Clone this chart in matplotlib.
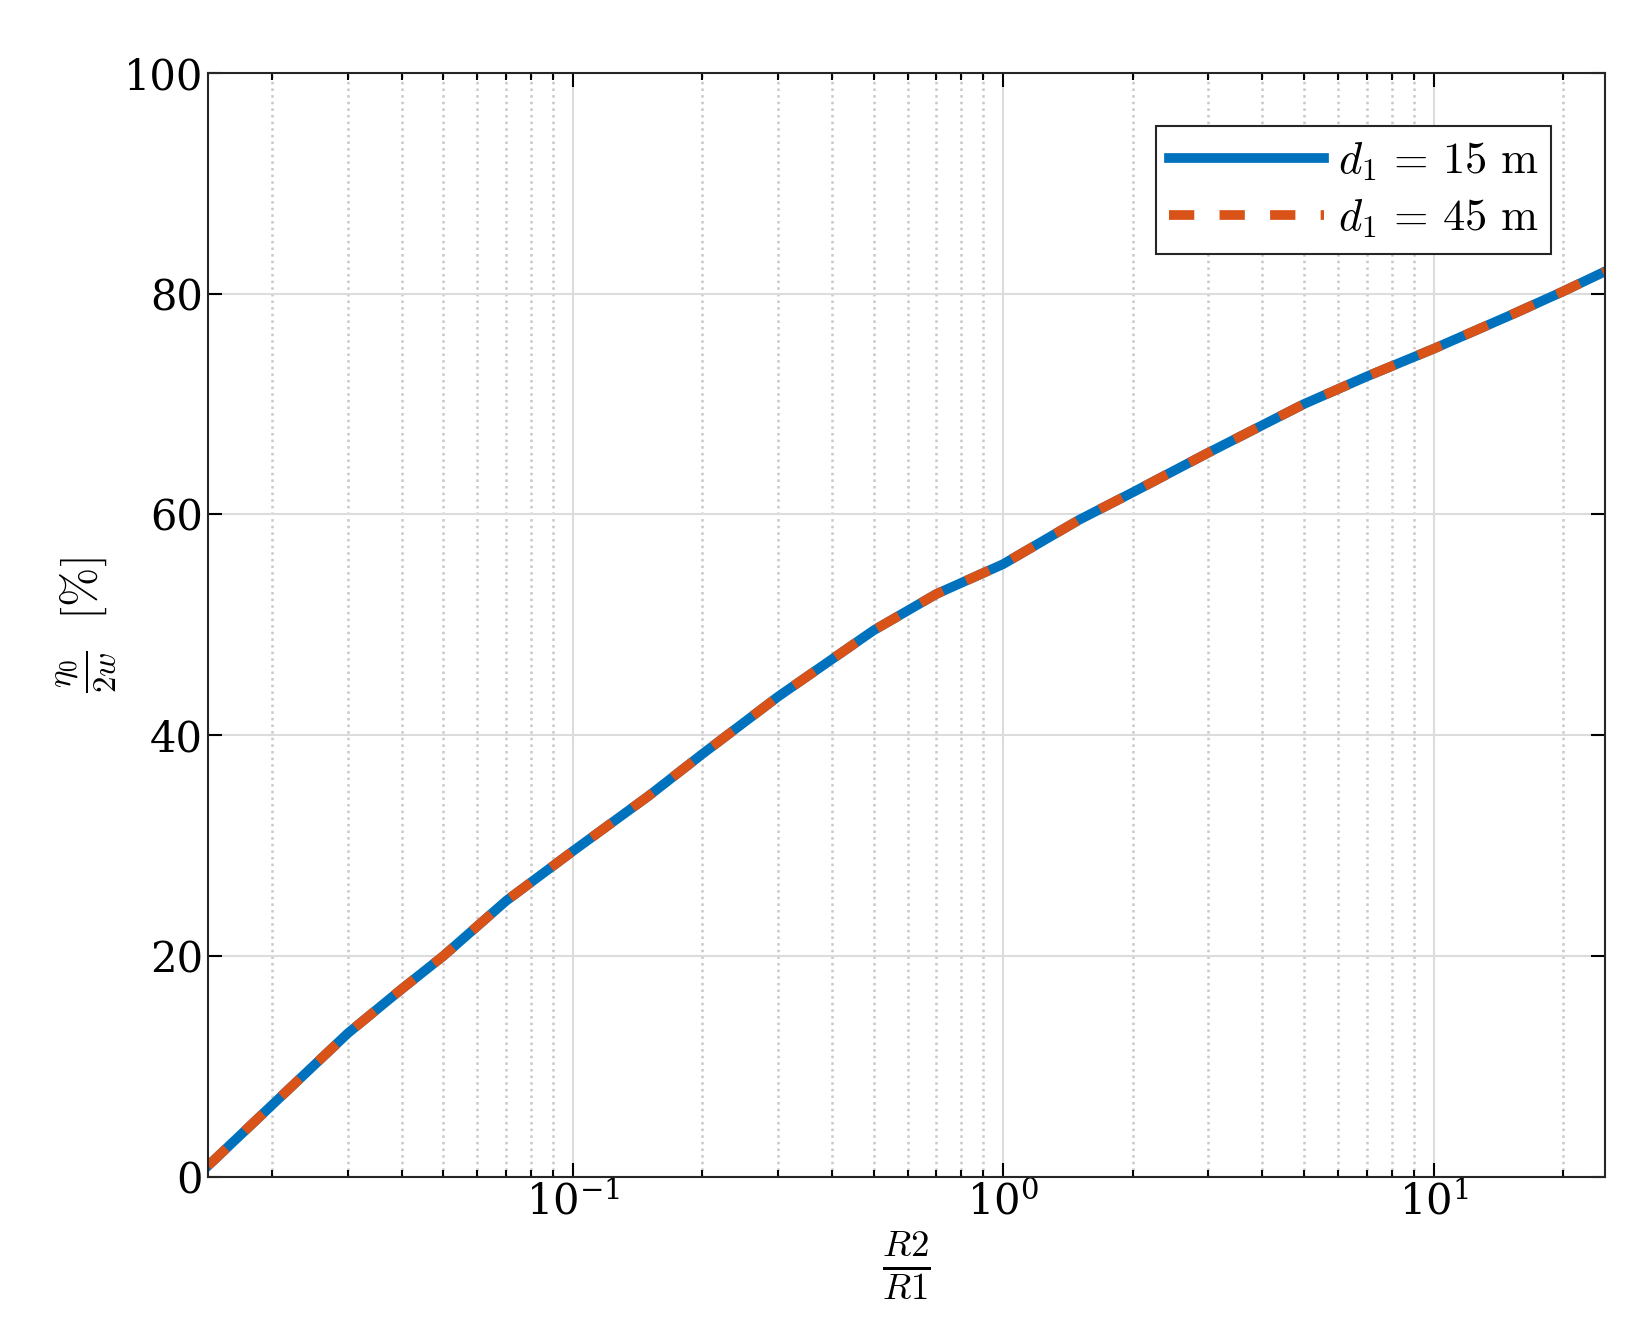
import matplotlib.pyplot as plt
import numpy as np

plt.rcParams['mathtext.fontset'] = 'cm'
plt.rcParams['font.family'] = 'serif'
plt.rcParams['font.serif'] = ['DejaVu Serif']

# values
ratio = [0.0142, 0.02, 0.03, 0.04, 0.05, 0.07, 0.1, 0.15, 0.2, 0.3, 0.5, 0.7, 1, 1.5, 2, 3, 5, 7, 10, 15, 20, 25]
eta15 = [1.0, 6.5, 13.0, 17.0, 20.0, 25.0, 29.5, 34.5, 38.3, 43.5, 49.5, 52.8, 55.5, 59.5, 62.0, 65.6, 70.0, 72.5, 75.0, 78.0, 80.2, 82.0]
eta45 = list(eta15)

W, H = 1560, 1262
fig = plt.figure(figsize=(16.47, 13.32), dpi=100)
ax = fig.add_axes([197/W, 1-1115/H, (1520-197)/W, (1115-69)/H])
ax.semilogx(ratio, eta15, color='#0072BD', lw=7, label=r'$d_1\,=\,15\ \mathrm{m}$')
ax.semilogx(ratio, eta45, color='#D95319', lw=7, ls=(0, (2.6, 2.6)), label=r'$d_1\,=\,45\ \mathrm{m}$')

ax.set_xlim(0.0142, 25)
ax.set_ylim(0, 100)
ax.set_yticks(range(0, 101, 20))
ax.grid(True, which='major', color='#dcdcdc', lw=1.5)
ax.grid(True, which='minor', axis='x', color='#c8c8c8', ls=':', lw=1.8)
ax.tick_params(which='both', direction='in', top=True, right=True, labelsize=30, width=1.5)
ax.tick_params(which='major', length=10)
ax.tick_params(which='minor', length=5)
for s in ax.spines.values():
    s.set_linewidth(1.5)
    s.set_color('#262626')

ax.set_xlabel(r'$\frac{R2}{R1}$', fontsize=38)
ax.set_ylabel(r'$\frac{\eta_0}{2w}\ \ [\%]$', fontsize=34)

leg = ax.legend(loc='upper right', fontsize=32, fancybox=False, edgecolor='#262626',
                handlelength=3.5, handletextpad=0.3, borderaxespad=1.2, borderpad=0.3,
                labelspacing=0.3, framealpha=1)
leg.get_frame().set_linewidth(1.5)

fig.savefig('out.png', dpi=100)
